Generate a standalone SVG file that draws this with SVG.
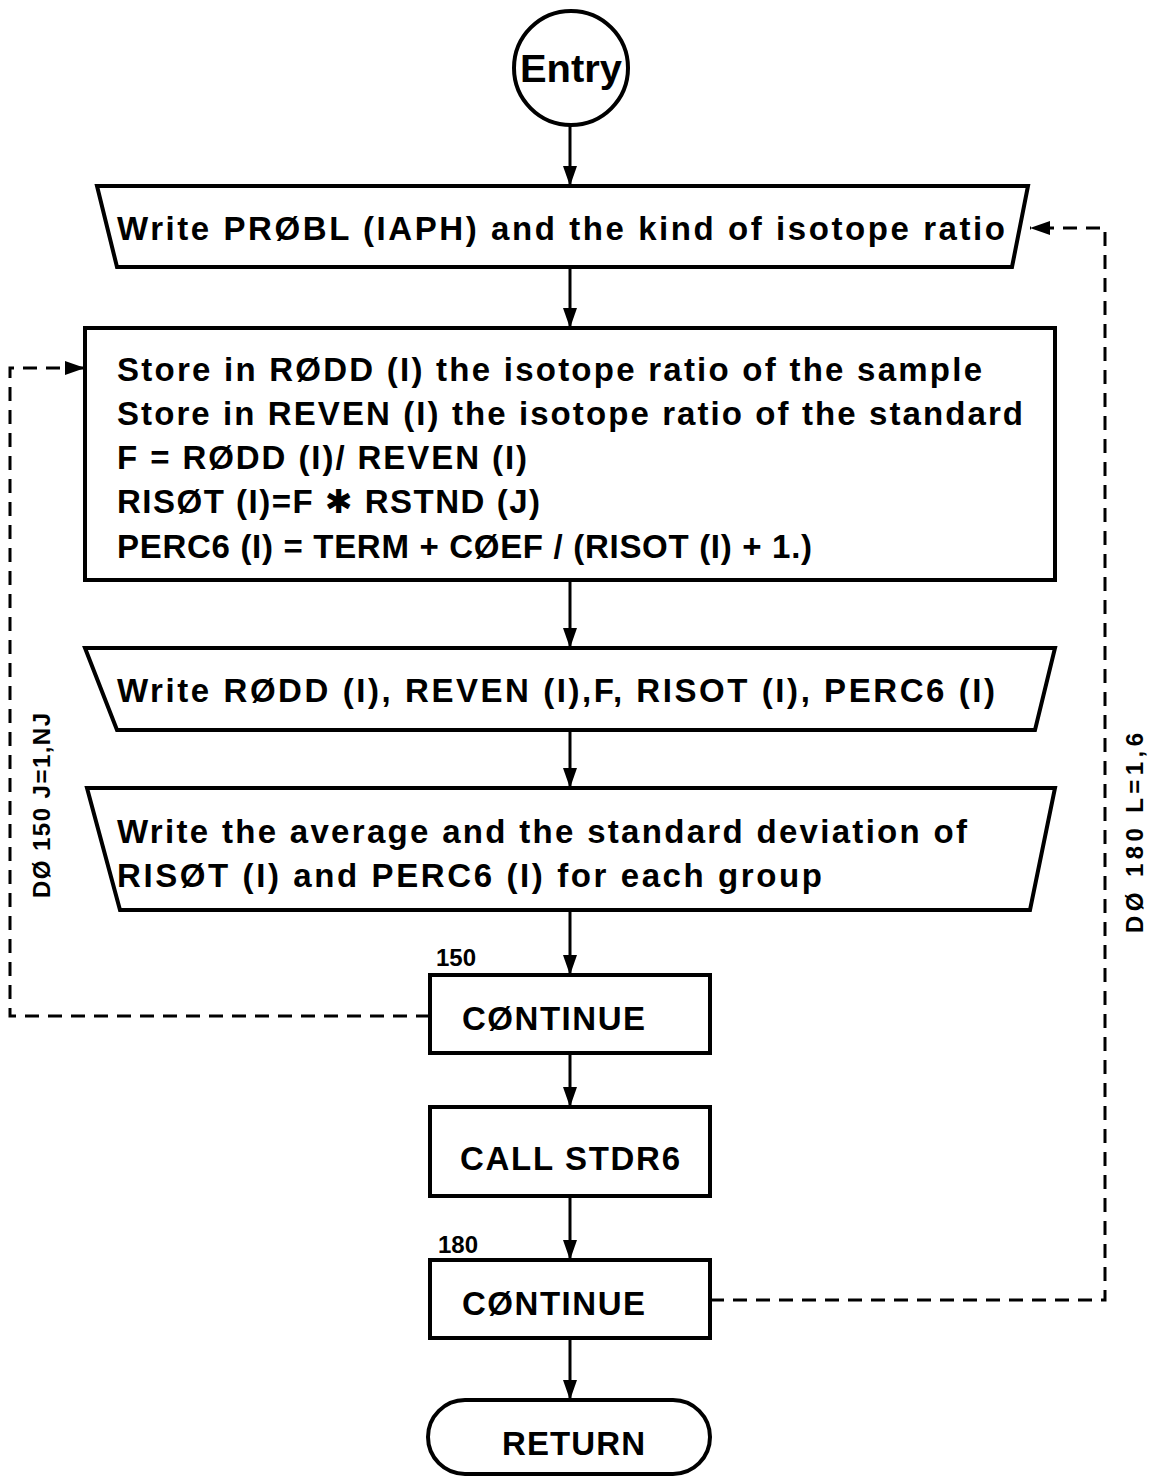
<svg xmlns="http://www.w3.org/2000/svg" width="1159" height="1477" viewBox="0 0 1159 1477">
<defs>
<style>
.shape{fill:#fff;stroke:#000;stroke-width:4;stroke-linejoin:miter}
.t{font-family:"Liberation Sans","DejaVu Sans",sans-serif;font-weight:bold;font-size:33px;fill:#000}
.big{font-size:38px}
.lbl{font-family:"Liberation Sans","DejaVu Sans",sans-serif;font-weight:bold;font-size:24px;fill:#000}
.flow{fill:none;stroke:#000;stroke-width:3}
.loop{fill:none;stroke:#000;stroke-width:3;stroke-dasharray:14 9}
</style>
<marker id="ah" markerUnits="userSpaceOnUse" markerWidth="20" markerHeight="16" viewBox="0 0 20 16" refX="20" refY="8" orient="auto">
<path d="M0,1 L20,8 L0,15 Z" fill="#000"/>
</marker>
</defs>
<rect width="1159" height="1477" fill="#fff"/>

<g id="connectors">
<line class="flow" x1="570" y1="126" x2="570" y2="186" marker-end="url(#ah)"/>
<line class="flow" x1="570" y1="267" x2="570" y2="328" marker-end="url(#ah)"/>
<line class="flow" x1="570" y1="580" x2="570" y2="648" marker-end="url(#ah)"/>
<line class="flow" x1="570" y1="730" x2="570" y2="788" marker-end="url(#ah)"/>
<line class="flow" x1="570" y1="910" x2="570" y2="975" marker-end="url(#ah)"/>
<line class="flow" x1="570" y1="1053" x2="570" y2="1107" marker-end="url(#ah)"/>
<line class="flow" x1="570" y1="1196" x2="570" y2="1260" marker-end="url(#ah)"/>
<line class="flow" x1="570" y1="1338" x2="570" y2="1400" marker-end="url(#ah)"/>
<polyline class="loop" points="430,1016 10,1016 10,368 85,368" marker-end="url(#ah)"/>
<polyline class="loop" points="710,1300 1105,1300 1105,228 1030,228" marker-end="url(#ah)"/>
<text class="lbl" transform="translate(50,898) rotate(-90)" textLength="185" lengthAdjust="spacing">DØ 150  J=1,NJ</text>
<text class="lbl" transform="translate(1143,933) rotate(-90)" textLength="200" lengthAdjust="spacing">DØ  180  L=1,6</text>
</g>

<g id="entry">
<circle class="shape" cx="571" cy="68" r="57"/>
<text class="t big" x="520" y="82" textLength="102" lengthAdjust="spacingAndGlyphs">Entry</text>
</g>

<g id="write-probl">
<polygon class="shape" points="97,186 1028,186 1012,267 117,267"/>
<text class="t" x="117" y="240" textLength="888" lengthAdjust="spacing">Write  PRØBL (IAPH) and  the  kind  of  isotope  ratio</text>
</g>

<g id="store">
<rect class="shape" x="85" y="328" width="970" height="252"/>
<text class="t" x="117" y="381" textLength="865" lengthAdjust="spacing">Store  in  RØDD (I)  the  isotope  ratio  of  the  sample</text>
<text class="t" x="117" y="425" textLength="906" lengthAdjust="spacing">Store  in  REVEN (I)  the  isotope  ratio  of  the  standard</text>
<text class="t" x="117" y="469" textLength="410" lengthAdjust="spacing">F = RØDD (I)/ REVEN (I)</text>
<text class="t" x="117" y="513" textLength="423" lengthAdjust="spacing">RISØT (I)=F ✱ RSTND (J)</text>
<text class="t" x="117" y="558" textLength="695" lengthAdjust="spacing">PERC6 (I) = TERM + CØEF / (RISOT (I) + 1.)</text>
</g>

<g id="write-rodd">
<polygon class="shape" points="85,648 1055,648 1035,730 117,730"/>
<text class="t" x="117" y="702" textLength="878" lengthAdjust="spacing">Write  RØDD (I), REVEN (I),F, RISOT (I), PERC6 (I)</text>
</g>

<g id="write-average">
<polygon class="shape" points="87,788 1055,788 1030,910 120,910"/>
<text class="t" x="117" y="843" textLength="850" lengthAdjust="spacing">Write  the  average  and  the  standard  deviation  of</text>
<text class="t" x="117" y="887" textLength="705" lengthAdjust="spacing">RISØT (I) and  PERC6 (I) for  each  group</text>
</g>

<g id="continue-150">
<text class="lbl" x="436" y="966" textLength="40" lengthAdjust="spacing">150</text>
<rect class="shape" x="430" y="975" width="280" height="78"/>
<text class="t" x="462" y="1030" textLength="183" lengthAdjust="spacing">CØNTINUE</text>
</g>

<g id="call-stdr6">
<rect class="shape" x="430" y="1107" width="280" height="89"/>
<text class="t" x="460" y="1170" textLength="220" lengthAdjust="spacing">CALL  STDR6</text>
</g>

<g id="continue-180">
<text class="lbl" x="438" y="1253" textLength="40" lengthAdjust="spacing">180</text>
<rect class="shape" x="430" y="1260" width="280" height="78"/>
<text class="t" x="462" y="1315" textLength="183" lengthAdjust="spacing">CØNTINUE</text>
</g>

<g id="return">
<rect class="shape" x="428" y="1400" width="282" height="74" rx="37" ry="37"/>
<text class="t" x="502" y="1455" textLength="143" lengthAdjust="spacing">RETURN</text>
</g>
</svg>
